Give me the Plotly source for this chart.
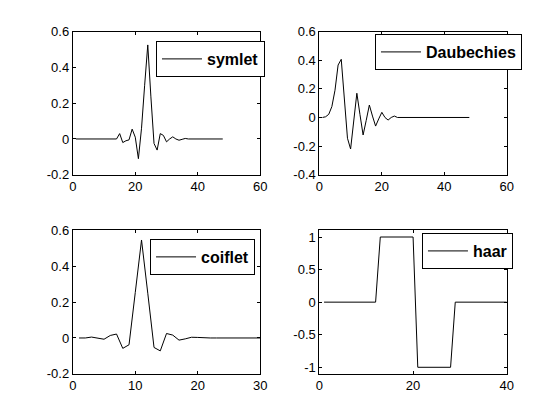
import plotly.graph_objects as go

# ---- data ----
SYM_X = list(range(1, 49))
SYM_Y = [0.0] * 14 + [
    0.03, -0.02, -0.01, -0.005, 0.055, 0.01, -0.11, 0.06, 0.30, 0.525,
    0.235, -0.025, -0.062, 0.03, 0.02, -0.016, 0.0, 0.012, 0.0, -0.007,
    -0.002, 0.003,
] + [0.0] * 12

DB_X = list(range(1, 49))
DB_Y = [
    0.0, 0.005, 0.022, 0.076, 0.19, 0.366, 0.406, 0.13, -0.145, -0.22,
    -0.03, 0.169, 0.02, -0.122, -0.02, 0.087, 0.01, -0.06, -0.01, 0.036,
    0.0, -0.018, 0.0, 0.01, 0.0,
] + [0.0] * 23

COIF_X = list(range(1, 31))
COIF_Y = [
    0.0, 0.0, 0.005, 0.0, -0.007, 0.014, 0.022, -0.058, -0.038, 0.254,
    0.547, 0.25, -0.053, -0.072, 0.025, 0.016, -0.012, -0.005, 0.004, 0.003,
] + [0.0] * 10

HAAR_X = list(range(1, 41))
HAAR_Y = [0] * 12 + [1] * 8 + [-1] * 8 + [0] * 12

NAMES = ["symlet", "Daubechies", "coiflet", "haar"]

# tick labels
X60_TICKS = [0, 20, 40, 60]
X30_TICKS = [0, 10, 20, 30]
X40_TICKS = [0, 20, 40]
Y_SYM_TICKS = [-0.2, 0, 0.2, 0.4, 0.6]
Y_DB_TICKS = [-0.4, -0.2, 0, 0.2, 0.4, 0.6]
Y_HAAR_TICKS = [-1, -0.5, 0, 0.5, 1]

FONT = "Liberation Sans, Arial, sans-serif"

# MATLAB default subplot(2,2,k) positions
LEFT_COL = [0.13, 0.4647]
RIGHT_COL = [0.5703, 0.905]
TOP_ROW = [0.5838, 0.925]
BOT_ROW = [0.11, 0.4512]


def _axis(domain, rng, ticks, anchor):
    return dict(
        domain=domain, range=rng, anchor=anchor, automargin=False,
        tickvals=ticks, ticktext=[f"{t:g}" for t in ticks],
        ticks="inside", ticklen=3, tickcolor="black", tickwidth=1,
        showline=True, linecolor="black", linewidth=1, mirror="ticks",
        showgrid=False, zeroline=False,
        tickfont=dict(family=FONT, size=13, color="black"),
    )


def _legend(x, y):
    return dict(
        x=x, y=y, xanchor="right", yanchor="top",
        xref="paper", yref="paper",
        bgcolor="white", bordercolor="black", borderwidth=1,
        font=dict(family=FONT, size=16, color="black", weight="bold"),
        itemwidth=40, tracegroupgap=0,
    )


fig = go.Figure()
series = [(SYM_X, SYM_Y), (DB_X, DB_Y), (COIF_X, COIF_Y), (HAAR_X, HAAR_Y)]
for i, (xs, ys) in enumerate(series):
    k = "" if i == 0 else str(i + 1)
    fig.add_trace(go.Scatter(
        x=xs, y=ys, mode="lines", name=NAMES[i],
        line=dict(color="black", width=1),
        xaxis="x" + k, yaxis="y" + k,
        legend="legend" + k, showlegend=True,
    ))

fig.update_layout(
    width=560, height=420,
    margin=dict(l=0, r=0, t=0, b=0),
    paper_bgcolor="white", plot_bgcolor="white",
    font=dict(family=FONT, color="black"),
    xaxis=_axis(LEFT_COL, [0, 60], X60_TICKS, "y"),
    yaxis=_axis(TOP_ROW, [-0.2, 0.6], Y_SYM_TICKS, "x"),
    xaxis2=_axis(RIGHT_COL, [0, 60], X60_TICKS, "y2"),
    yaxis2=_axis(TOP_ROW, [-0.4, 0.6], Y_DB_TICKS, "x2"),
    xaxis3=_axis(LEFT_COL, [0, 30], X30_TICKS, "y3"),
    yaxis3=_axis(BOT_ROW, [-0.2, 0.6], Y_SYM_TICKS, "x3"),
    xaxis4=_axis(RIGHT_COL, [0, 40], X40_TICKS, "y4"),
    yaxis4=_axis(BOT_ROW, [-1.1, 1.1], Y_HAAR_TICKS, "x4"),
    legend=_legend(0.4732, 0.9024),
    legend2=_legend(0.9321, 0.919),
    legend3=_legend(0.4554, 0.431),
    legend4=_legend(0.916, 0.4452),
)

# drop the default 8px page margin so the figure sits at the window corner
fig.write_html(
    "out.html",
    config={"displayModeBar": False},
    post_script="document.body.style.margin='0';",
)
